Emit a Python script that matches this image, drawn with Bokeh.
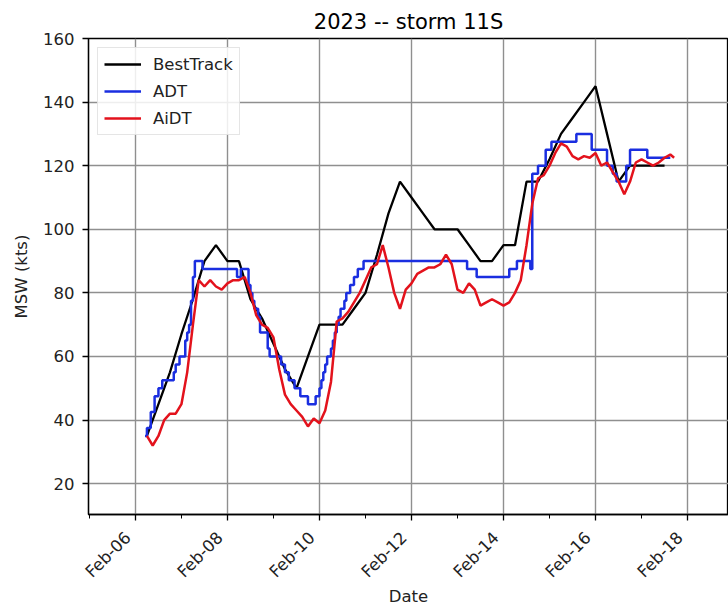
import math
from datetime import datetime, timedelta

from bokeh.plotting import figure
from bokeh.models import (Range1d, FixedTicker, DatetimeTickFormatter, Legend, LegendItem)
from bokeh.embed import file_html
from bokeh.resources import INLINE

# ---------------- data (hours after 2023-02-06 00:00 UTC, winds in kts) ----------------
BASE = datetime(2023, 2, 6)

best_hours = [6, 12, 18, 24, 30, 36, 42, 48, 54, 60, 66, 72, 78, 84, 90, 96, 102, 108, 114, 120,
              126, 132, 138, 144, 150, 156, 162, 168, 174, 180, 186, 192, 198, 204, 210, 216,
              222, 228, 234, 240, 246, 252, 258, 264, 270, 276]
best_msw = [35, 45, 55, 67, 78, 90, 95, 90, 90, 78, 72, 64, 56, 50, 60, 70, 70, 70, 75, 80,
            92, 105, 115, 110, 105, 100, 100, 100, 95, 90, 90, 95, 95, 115, 115, 122,
            130, 135, 140, 145, 130, 115, 120, 120, 120, 120]

adt_hours = [5, 6, 8, 10, 12, 14, 20, 21, 22, 23, 24, 26, 27, 28, 29, 30, 31, 35, 53, 55, 59,
             60, 61, 62, 64, 65, 69, 70, 76, 78, 80, 83, 86, 90, 94, 96, 97, 98, 99, 100, 102,
             103, 104, 105, 106, 107, 109, 110, 112, 114, 116, 119, 173, 178, 195, 199, 206,
             207, 210, 214, 217, 230, 238, 246, 249, 251, 256, 258, 267, 279]
adt_msw = [35, 37.5, 42.5, 47.5, 50, 52.5, 55, 57.5, 57.5, 60, 60, 65, 67.5, 70, 77.5, 85, 90,
           87.5, 85, 87.5, 82.5, 80, 77.5, 75, 72.5, 67.5, 62.5, 60, 57.5, 55, 52.5, 50, 47.5,
           45, 47.5, 50, 52.5, 55, 57.5, 60, 62.5, 65, 67.5, 70, 72.5, 75, 77.5, 80, 82.5, 85,
           87.5, 90, 87.5, 85, 87.5, 90, 87.5, 117.5, 120, 125, 127.5, 130, 125, 120, 117.5,
           115, 120, 125, 122.5, 122.5]

aidt_hours = list(range(6, 280, 3)) + [281]
aidt_msw = [35, 32, 35, 40, 42, 42, 45, 55, 70, 84,
            82, 84, 82, 81, 83, 84, 84, 85, 80, 73,
            70, 69, 66, 56, 48, 45, 43, 41, 38, 40.5,
            39, 43, 52, 71, 72, 74, 77, 80, 84, 88,
            89, 95, 88, 80, 75, 81, 83, 86, 87, 88,
            88, 89, 92, 89, 81, 80, 83, 81, 76, 77,
            78, 77, 76, 77, 80, 84, 95, 108, 116, 117,
            120, 124, 127, 126, 123, 122, 123, 122.5, 124, 120,
            121, 118, 115, 111, 115, 121, 122, 121, 120, 121,
            122.5, 123.5, 122.5]

y_ticks = [20, 40, 60, 80, 100, 120, 140, 160]
x_major_days = [0, 2, 4, 6, 8, 10, 12]
x_minor_days = [-1, 1, 3, 5, 7, 9, 11]

TITLE = "2023 -- storm 11S"
series_names = ["BestTrack", "ADT", "AiDT"]
series_colors = ["#000000", "#1a2ee0", "#e3121c"]

# ---------------- helpers ----------------
EPOCH = datetime(1970, 1, 1)


def to_dt(hours):
    return [BASE + timedelta(hours=h) for h in hours]


def to_ms(dt):
    return (dt - EPOCH).total_seconds() * 1000.0


FONT = "DejaVu Sans"

p = figure(width=728, height=609, x_axis_type="datetime", output_backend="svg",
           toolbar_location=None,
           x_range=Range1d(BASE + timedelta(days=-1.02), BASE + timedelta(days=12.89)),
           y_range=Range1d(10.3, 160),
           min_border_left=88, min_border_right=0, min_border_top=38, min_border_bottom=95)

p.title.text = TITLE
p.title.align = "center"
p.title.offset = 3
p.title.text_font = FONT
p.title.text_font_size = "21px"
p.title.text_font_style = "normal"
p.title.text_color = "#000000"
p.title.standoff = 10

r_best = p.line(to_dt(best_hours), best_msw, line_color=series_colors[0], line_width=2.3)
r_adt = p.step(to_dt(adt_hours), adt_msw, mode="after", line_color=series_colors[1], line_width=2.5)
r_aidt = p.line(to_dt(aidt_hours), aidt_msw, line_color=series_colors[2], line_width=2.5)

# axes
p.xaxis.ticker = FixedTicker(ticks=[to_ms(BASE + timedelta(days=d)) for d in x_major_days],
                             minor_ticks=[to_ms(BASE + timedelta(days=d)) for d in x_minor_days])
DATE_FMT = "%b-%d\u00a0\u00a0"
p.xaxis.formatter = DatetimeTickFormatter(days=DATE_FMT, months=DATE_FMT, hours=DATE_FMT,
                                          years=DATE_FMT, context=None)
p.xaxis.major_label_orientation = math.pi / 4
p.yaxis.ticker = FixedTicker(ticks=y_ticks, minor_ticks=[])

p.xaxis.axis_label = "Date"
p.yaxis.axis_label = "MSW (kts)"
for ax in (p.xaxis[0], p.yaxis[0]):
    ax.axis_label_text_font = FONT
    ax.axis_label_text_font_size = "16.5px"
    ax.axis_label_text_font_style = "normal"
    ax.axis_label_text_color = "#222222"
    ax.major_label_text_font = FONT
    ax.major_label_text_font_size = "16.5px"
    ax.major_label_text_color = "#222222"
    ax.axis_line_color = "#000000"
    ax.axis_line_width = 1.3
    ax.major_tick_line_color = "#000000"
    ax.major_tick_line_width = 1.3
    ax.major_tick_out = 6
    ax.major_tick_in = 0
    ax.minor_tick_line_color = "#000000"
    ax.minor_tick_line_width = 1.0
    ax.minor_tick_out = 4
    ax.minor_tick_in = 0
p.xaxis.axis_label_standoff = -4
p.yaxis.axis_label_standoff = 9
p.xaxis.major_label_standoff = 7
p.yaxis.major_label_standoff = 8

p.outline_line_color = "#000000"
p.outline_line_width = 1.3

p.xgrid.ticker = p.xaxis[0].ticker
p.ygrid.ticker = p.yaxis[0].ticker
for g in (p.xgrid[0], p.ygrid[0]):
    g.grid_line_color = "#8f8f8f"
    g.grid_line_width = 1.4

legend = Legend(items=[LegendItem(label=series_names[0], renderers=[r_best]),
                       LegendItem(label=series_names[1], renderers=[r_adt]),
                       LegendItem(label=series_names[2], renderers=[r_aidt])],
                location="top_left")
legend.margin = 9
legend.padding = 6
legend.spacing = 7
legend.glyph_width = 37
legend.glyph_height = 20
legend.label_height = 20
legend.label_standoff = 12
legend.label_text_font = FONT
legend.label_text_font_size = "16.5px"
legend.label_text_color = "#222222"
legend.border_line_color = "#cccccc"
legend.border_line_width = 1
legend.background_fill_alpha = 0.85
p.add_layout(legend, "center")

open("out.html", "w").write(file_html(p, INLINE))
